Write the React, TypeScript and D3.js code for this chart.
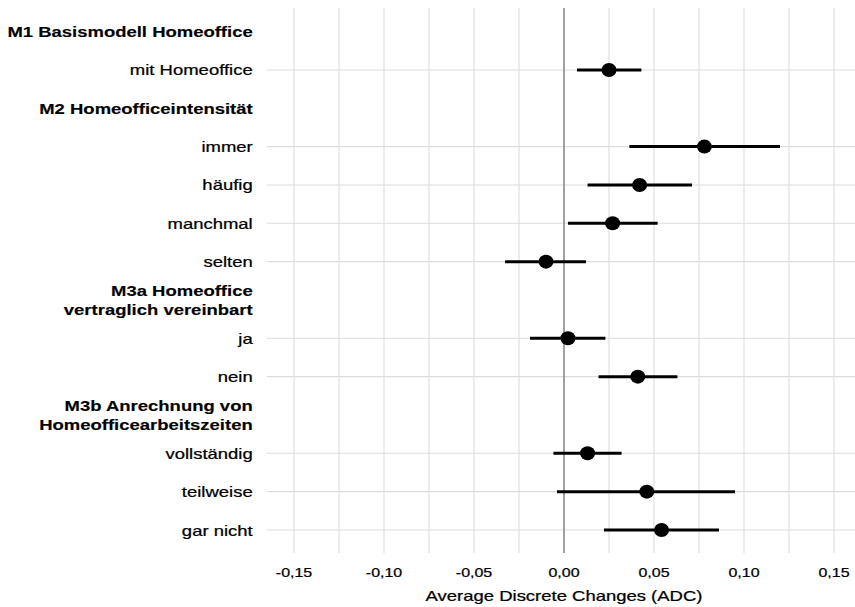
import React from "react";
import * as d3 from "d3";

// rows top to bottom, headers carry "\n" for line breaks
const rows = [
  "M1 Basismodell Homeoffice",
  "mit Homeoffice",
  "M2 Homeofficeintensität",
  "immer",
  "häufig",
  "manchmal",
  "selten",
  "M3a Homeoffice\nvertraglich vereinbart",
  "ja",
  "nein",
  "M3b Anrechnung von\nHomeofficearbeitszeiten",
  "vollständig",
  "teilweise",
  "gar nicht",
];
const headers = [rows[0], rows[2], rows[7], rows[10]];

const terms = ["mit Homeoffice", "immer", "häufig", "manchmal", "selten", "ja", "nein", "vollständig", "teilweise", "gar nicht"];
const estimate = [0.025, 0.078, 0.042, 0.027, -0.01, 0.0022, 0.041, 0.0131, 0.046, 0.0542];
const lower = [0.0072, 0.0363, 0.0131, 0.0022, -0.0328, -0.0189, 0.0192, -0.0059, -0.0039, 0.0222];
const upper = [0.043, 0.12, 0.0711, 0.052, 0.0122, 0.023, 0.063, 0.032, 0.095, 0.0861];

const tickValues = [-0.15, -0.1, -0.05, 0, 0.05, 0.1, 0.15];
const gridValues = d3.range(-0.15, 0.1501, 0.025);

const W = 855;
const H = 607;
const SX = 1.2; // the original is a bit stretched sideways
const FONT = "'Liberation Sans', Arial, sans-serif";

const deFmt = d3.formatLocale({ decimal: ",", thousands: ".", grouping: [3], currency: ["", "€"], minus: "-" }).format(".2f");

function Label({ x, y, size, anchor, bold, children }) {
  return (
    <text
      transform={`translate(${x},${y}) scale(${SX},1)`}
      textAnchor={anchor}
      fontSize={size}
      fontWeight={bold ? "bold" : "normal"}
      fill="#000"
      stroke="#000"
      strokeWidth={bold ? 0.15 : 0.25}
      fontFamily={FONT}
    >
      {children}
    </text>
  );
}

export default function App() {
  const panel = { left: 267, right: 861, top: 8, bottom: 553 };
  const x = d3.scaleLinear().domain([-0.165, 0.165]).range([panel.left, panel.right]);
  const y = d3.scalePoint().domain(rows).range([31.6, 530]);

  return (
    <div style={{ position: "absolute", left: 0, top: 0 }}>
      <svg width={W} height={H} style={{ display: "block", background: "white" }}>
        {/* grid */}
        {gridValues.map((v, i) => (
          <line key={"gx" + i} x1={x(v)} x2={x(v)} y1={panel.top} y2={panel.bottom} stroke="#dcdcdc" strokeWidth={1.1} />
        ))}
        {rows
          .filter((r) => !headers.includes(r))
          .map((r) => (
            <line key={"gy" + r} x1={panel.left} x2={W} y1={y(r)} y2={y(r)} stroke="#dcdcdc" strokeWidth={1.1} />
          ))}
        <line x1={x(0)} x2={x(0)} y1={panel.top} y2={panel.bottom} stroke="#7a7a7a" strokeWidth={1.3} />

        {/* intervals and points */}
        {terms.map((t, i) => (
          <g key={t}>
            <line x1={x(lower[i])} x2={x(upper[i])} y1={y(t)} y2={y(t)} stroke="black" strokeWidth={3} />
            <ellipse cx={x(estimate[i])} cy={y(t)} rx={7.5} ry={7} fill="black" />
          </g>
        ))}

        {/* y labels */}
        {rows.map((r) => {
          const bold = headers.includes(r);
          const lines = r.split("\n");
          const gap = 19.5;
          return lines.map((l, j) => (
            <Label
              key={r + j}
              x={252.7}
              y={y(r) + 5.5 + (j - (lines.length - 1) / 2) * gap}
              size={15.4}
              anchor="end"
              bold={bold}
            >
              {l}
            </Label>
          ));
        })}

        {/* x ticks */}
        {tickValues.map((v) => (
          <Label key={"t" + v} x={x(v)} y={577.3} size={13.3} anchor="middle">
            {deFmt(v)}
          </Label>
        ))}
        <Label x={564} y={600.5} size={15.4} anchor="middle">
          Average Discrete Changes (ADC)
        </Label>
      </svg>
    </div>
  );
}
